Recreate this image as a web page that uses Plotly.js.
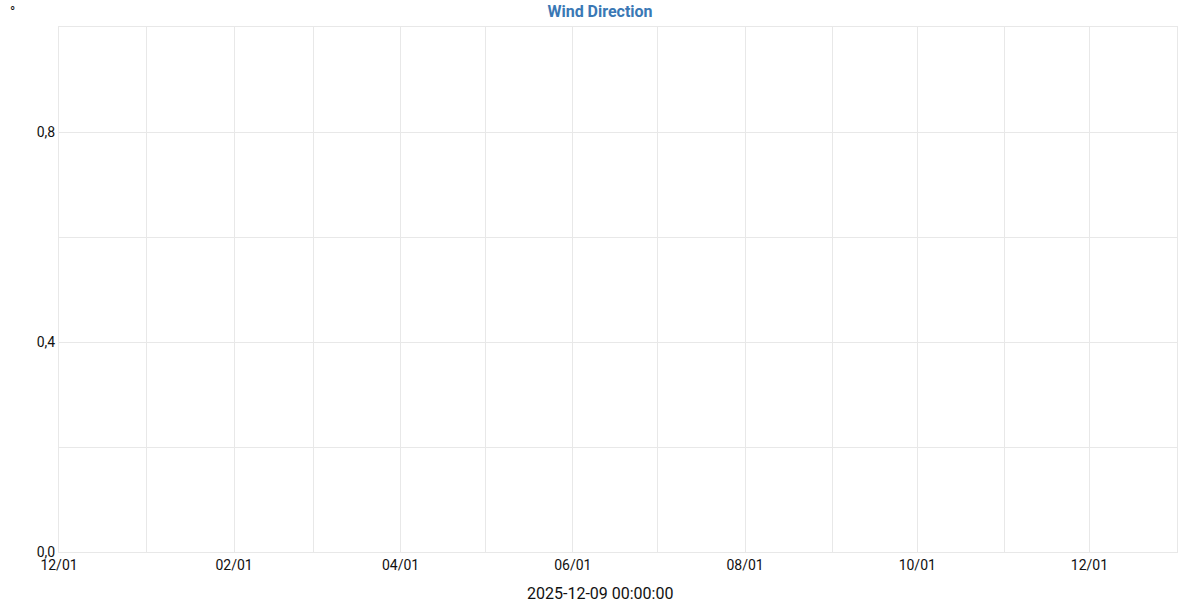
<!DOCTYPE html>
<html>
<head>
<meta charset="utf-8">
<script src="https://cdn.plot.ly/plotly-3.0.1.min.js"></script>
<style>html,body{margin:0;padding:0;background:#fff;}#chart{width:1200px;height:600px;}</style>
</head>
<body>
<div id="chart"></div>
<script>
// Data: the reference panel shows no readings in the window
const timestamps = [];
const windDirection = [];
const xRange = ['2024-12-01', '2026-01-01'];
const yRange = [0, 1];
const chartTitle = 'Wind Direction';
const unitLabel = '°';
const xAxisTitle = '2025-12-09 00:00:00';

const trace = {
  x: timestamps,
  y: windDirection,
  type: 'scatter',
  mode: 'lines',
  line: {color: '#3a78b5', width: 2},
  showlegend: false
};

const layout = {
  width: 1200,
  height: 600,
  margin: {l: 59, r: 23, t: 27, b: 48},
  paper_bgcolor: '#ffffff',
  plot_bgcolor: '#ffffff',
  separators: ',.',
  font: {family: 'Roboto, sans-serif', size: 14, color: '#111'},
  title: {
    text: '<b>' + chartTitle + '</b>',
    font: {family: 'Roboto, sans-serif', size: 16, color: '#3a78b5'},
    x: 0.5, xanchor: 'center', y: 0.981, yanchor: 'middle', yref: 'container'
  },
  xaxis: {
    type: 'date',
    range: xRange,
    dtick: 'M2',
    tick0: '2024-12-01',
    tickformat: '%m/%d',
    showgrid: true,
    gridcolor: '#e8e8e8',
    gridwidth: 1,
    minor: {dtick: 'M1', showgrid: true, gridcolor: '#e8e8e8', gridwidth: 1},
    zeroline: false,
    showline: true,
    linecolor: '#e8e8e8',
    mirror: true,
    ticks: '',
    tickfont: {size: 14, color: '#111'},
    title: {text: ''}
  },
  yaxis: {
    range: yRange,
    dtick: 0.4,
    tick0: 0,
    tickformat: '.1f',
    showgrid: true,
    gridcolor: '#e8e8e8',
    minor: {dtick: 0.2, showgrid: true, gridcolor: '#e8e8e8'},
    zeroline: false,
    showline: true,
    linecolor: '#e8e8e8',
    mirror: true,
    ticks: '',
    tickfont: {size: 14, color: '#111'}
  },
  annotations: [{
    text: unitLabel,
    xref: 'paper', yref: 'paper',
    x: 0, xshift: -47, y: 1, yshift: 15,
    xanchor: 'center', yanchor: 'middle',
    showarrow: false,
    font: {size: 14, color: '#111'}
  }, {
    text: xAxisTitle,
    xref: 'paper', yref: 'paper',
    x: (600 - 59) / 1118, y: 0, yshift: -41,
    xanchor: 'center', yanchor: 'middle',
    showarrow: false,
    font: {size: 16, color: '#111'}
  }]
};

Plotly.newPlot('chart', [trace], layout, {displayModeBar: false, staticPlot: true});
</script>
</body>
</html>
